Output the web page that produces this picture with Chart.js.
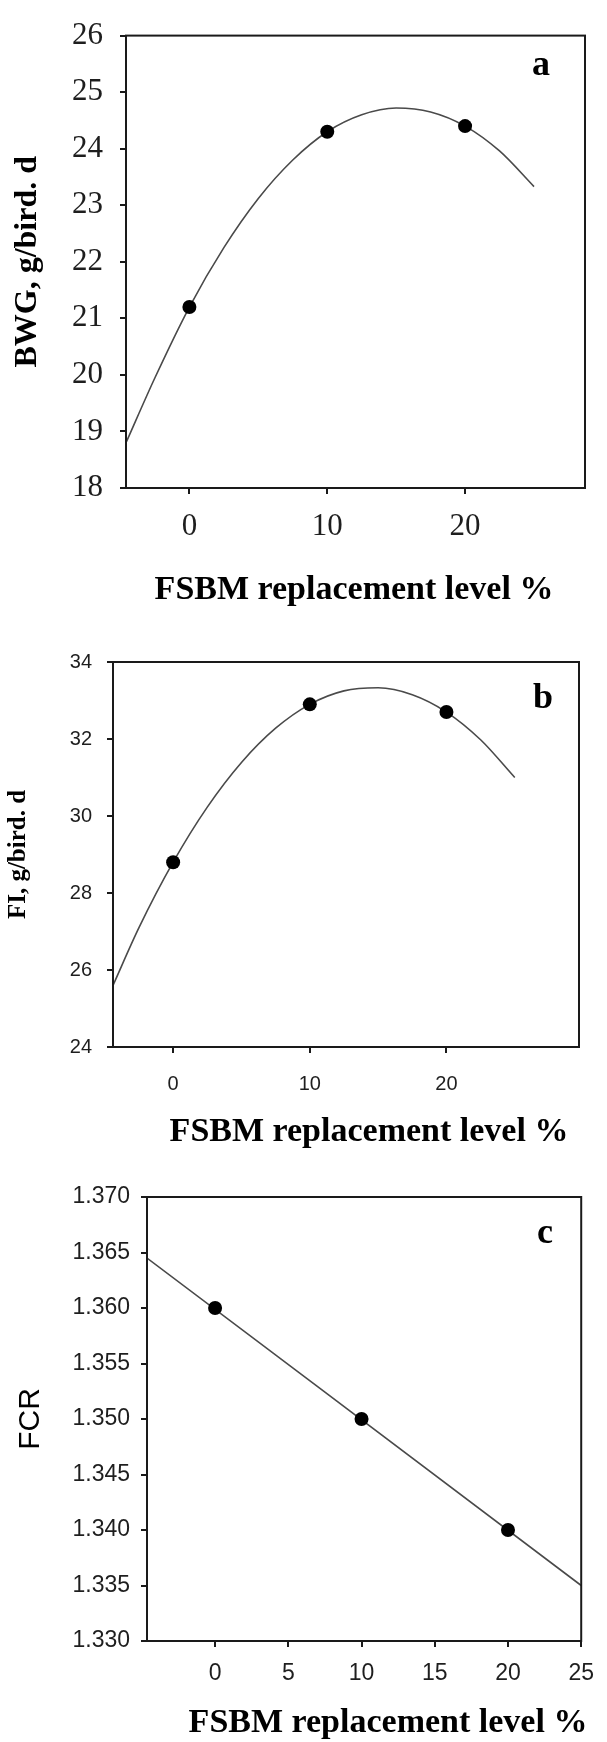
<!DOCTYPE html>
<html>
<head>
<meta charset="utf-8">
<script src="https://cdn.jsdelivr.net/npm/chart.js@4.4.0/dist/chart.umd.min.js"></script>
<style>
  html, body { margin: 0; padding: 0; background: #fff; }
  body { width: 607px; height: 1742px; position: relative; overflow: hidden; }
  canvas { position: absolute; left: 0; }
  .xtitle {
    position: absolute; width: 500px; text-align: center;
    font: bold 34px "Liberation Serif", "Times New Roman", serif;
    line-height: 34px; color: #000; white-space: nowrap;
  }
</style>
</head>
<body>
<canvas id="chartA" width="607" height="615" style="top:0"></canvas>
<canvas id="chartB" width="607" height="540" style="top:620px"></canvas>
<canvas id="chartC" width="607" height="577" style="top:1165px"></canvas>

<div class="xtitle" style="left:104px; top:571px">FSBM replacement level %</div>
<div class="xtitle" style="left:119px; top:1113px">FSBM replacement level %</div>
<div class="xtitle" style="left:138px; top:1704px">FSBM replacement level %</div>

<script>
/* ─── Data: panel a (BWG) ─── */
const levelsA    = [0, 10, 20];
const bwgValues  = [21.2, 24.3, 24.4];
const fitXA      = [-4.6, -2.5, 0, 2.5, 5, 7.5, 10, 12.5, 15, 17.5, 20, 22.5, 25];
const fitYA      = [18.8, 19.95, 21.2, 22.25, 23.12, 23.8, 24.3, 24.6, 24.72, 24.65, 24.4, 23.96, 23.33];
const xTicksA    = [0, 10, 20];
const yTicksA    = [18, 19, 20, 21, 22, 23, 24, 25, 26];

/* ─── Data: panel b (FI) ─── */
const levelsB    = [0, 10, 20];
const fiValues   = [28.8, 32.9, 32.7];
const fitXB      = [-4.4, -2.5, 0, 2.5, 5, 7.5, 10, 12.5, 15, 17.5, 20, 22.5, 25];
const fitYB      = [25.6, 27.1, 28.8, 30.23, 31.39, 32.28, 32.9, 33.25, 33.33, 33.15, 32.7, 31.98, 31.0];
const xTicksB    = [0, 10, 20];
const yTicksB    = [24, 26, 28, 30, 32, 34];

/* ─── Data: panel c (FCR) ─── */
const levelsC    = [0, 10, 20];
const fcrValues  = [1.360, 1.350, 1.340];
const fitXC      = [-4.65, 25];
const fitYC      = [1.3645, 1.335];
const xTicksC    = [0, 5, 10, 15, 20, 25];
const yTicksC    = [1.330, 1.335, 1.340, 1.345, 1.350, 1.355, 1.360, 1.365, 1.370];

const toPoints = (xs, ys) => xs.map((x, i) => ({ x, y: ys[i] }));

/* ─── Box frame + panel letter ─── */
const framePlugin = {
    id: 'frame',
    afterDatasetsDraw(chart, args, opts) {
        const { ctx, chartArea: a } = chart;
        ctx.save();
        ctx.strokeStyle = '#1a1a1a';
        ctx.lineWidth = 2;
        ctx.strokeRect(a.left, a.top, a.right - a.left, a.bottom - a.top);
        ctx.fillStyle = '#000';
        ctx.font = 'bold 36px "Liberation Serif", serif';
        ctx.textAlign = 'center';
        ctx.textBaseline = 'alphabetic';
        ctx.fillText(opts.letter, opts.x, opts.y);
        ctx.restore();
    }
};

function makePanel(canvasId, cfg) {
    const tickFont = cfg.tickFont;
    new Chart(document.getElementById(canvasId), {
        type: 'scatter',
        data: {
            datasets: [
                {
                    data: toPoints(cfg.fitX, cfg.fitY),
                    showLine: true,
                    borderColor: '#4a4a4a',
                    borderWidth: 1.6,
                    cubicInterpolationMode: 'monotone',
                    pointRadius: 0,
                    order: 2,
                },
                {
                    data: toPoints(cfg.levels, cfg.values),
                    showLine: false,
                    pointRadius: 7,
                    pointBackgroundColor: '#000',
                    pointBorderColor: '#000',
                    borderWidth: 0,
                    order: 1,
                }
            ]
        },
        options: {
            responsive: false,
            animation: false,
            events: [],
            layout: { padding: cfg.padding },
            plugins: {
                legend: { display: false },
                tooltip: { enabled: false },
                frame: cfg.letter,
            },
            scales: {
                x: {
                    type: 'linear',
                    min: cfg.xMin,
                    max: cfg.xMax,
                    afterBuildTicks: s => { s.ticks = cfg.xTicks.map(v => ({ value: v })); },
                    afterFit: s => { s.height = cfg.xHeight; },
                    grid: { display: true, drawOnChartArea: false, drawTicks: true, tickLength: 6, color: '#1a1a1a', lineWidth: 2 },
                    border: { display: false },
                    ticks: { font: tickFont, color: '#1e1e1e', padding: cfg.xPad, maxRotation: 0, autoSkip: false },
                },
                y: {
                    type: 'linear',
                    min: cfg.yMin,
                    max: cfg.yMax,
                    afterBuildTicks: s => { s.ticks = cfg.yTicks.map(v => ({ value: v })); },
                    afterFit: s => { s.width = cfg.yWidth; },
                    grid: { display: true, drawOnChartArea: false, drawTicks: true, tickLength: 6, color: '#1a1a1a', lineWidth: 2 },
                    border: { display: false },
                    ticks: {
                        font: tickFont, color: '#1e1e1e', padding: cfg.yPad, autoSkip: false,
                        callback: v => cfg.fmt(v),
                    },
                    title: {
                        display: true,
                        text: cfg.yTitle,
                        font: cfg.yTitleFont,
                        color: '#000',
                        padding: { top: cfg.yTitlePad, bottom: 0 },
                    },
                }
            }
        },
        plugins: [framePlugin]
    });
}

makePanel('chartA', {
    levels: levelsA, values: bwgValues, fitX: fitXA, fitY: fitYA,
    xMin: -4.6, xMax: 28.7, yMin: 18, yMax: 26,
    xTicks: xTicksA, yTicks: yTicksA, fmt: v => String(v),
    padding: { top: 28, right: 22, left: 0, bottom: 0 },
    xHeight: 127, yWidth: 126, xPad: 14, yPad: 17,
    tickFont: { family: '"Liberation Serif", serif', size: 31 },
    yTitle: 'BWG, g/bird. d',
    yTitleFont: { family: '"Liberation Serif", serif', size: 32, weight: 'bold' },
    yTitlePad: 9,
    letter: { letter: 'a', x: 541, y: 75 },
});

makePanel('chartB', {
    levels: levelsB, values: fiValues, fitX: fitXB, fitY: fitYB,
    xMin: -4.4, xMax: 29.7, yMin: 24, yMax: 34,
    xTicks: xTicksB, yTicks: yTicksB, fmt: v => String(v),
    padding: { top: 42, right: 28, left: 0, bottom: 0 },
    xHeight: 113, yWidth: 113, xPad: 19, yPad: 15,
    tickFont: { family: '"Liberation Sans", Arial, sans-serif', size: 20 },
    yTitle: 'FI, g/bird. d',
    yTitleFont: { family: '"Liberation Serif", serif', size: 25, weight: 'bold' },
    yTitlePad: 4,
    letter: { letter: 'b', x: 543, y: 88 },
});

makePanel('chartC', {
    levels: levelsC, values: fcrValues, fitX: fitXC, fitY: fitYC,
    xMin: -4.65, xMax: 25, yMin: 1.330, yMax: 1.370,
    xTicks: xTicksC, yTicks: yTicksC, fmt: v => v.toFixed(3),
    padding: { top: 32, right: 14, left: 0, bottom: 0 },
    xHeight: 101, yWidth: 147, xPad: 13, yPad: 11,
    tickFont: { family: '"Liberation Sans", Arial, sans-serif', size: 23 },
    yTitle: 'FCR',
    yTitleFont: { family: '"Liberation Sans", Arial, sans-serif', size: 30 },
    yTitlePad: 13,
    letter: { letter: 'c', x: 545, y: 78 },
});
</script>
</body>
</html>
